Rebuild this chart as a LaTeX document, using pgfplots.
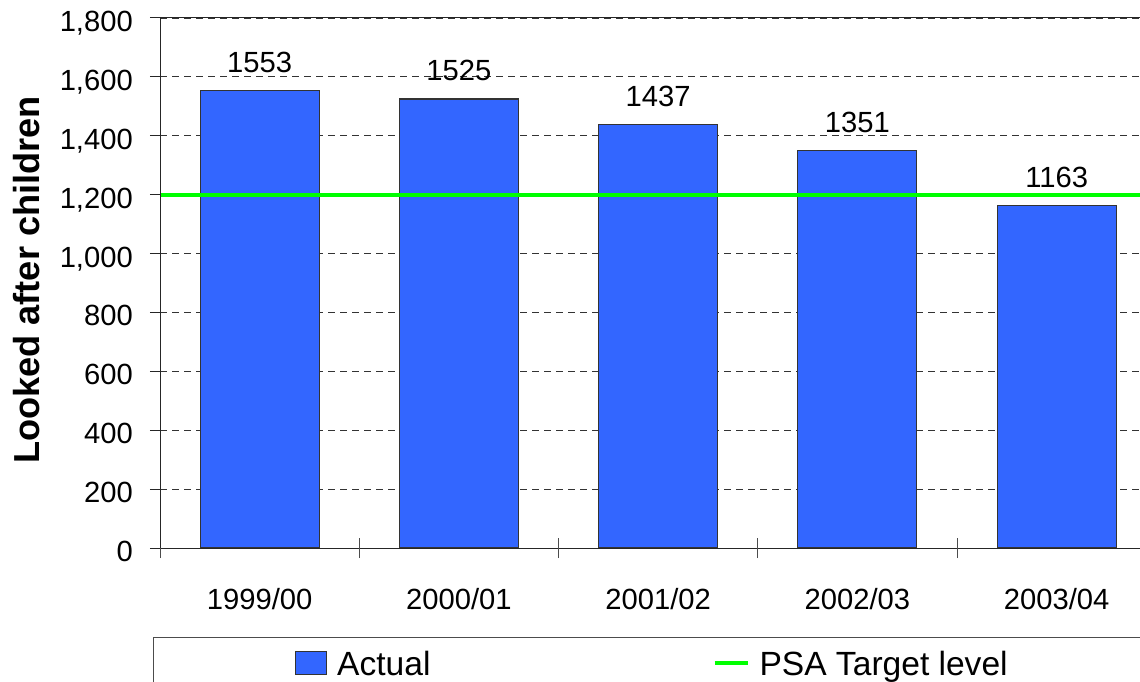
\documentclass[border=0pt]{standalone}
\usepackage{pgfplots}
\pgfplotsset{compat=1.18}
\usepackage{fontspec}
\setmainfont{Liberation Sans}
\definecolor{barblue}{RGB}{51,102,255}
\definecolor{psagreen}{RGB}{0,255,0}
\pgfplotsset{
  barlegend/.style={legend image code/.code={\draw[##1] (0bp,-11.5bp) rectangle (31bp,11.5bp);}},
  linelegend/.style={legend image code/.code={\draw[##1] (0bp,0bp) -- (33bp,0bp);}},
}
\begin{document}
\begin{tikzpicture}
\useasboundingbox (0,0) rectangle (1140bp,682bp);
\clip (0,0) rectangle (1140bp,682bp);
\begin{axis}[
  at={(160bp,134bp)}, anchor=south west,
  scale only axis,
  width=996.25bp, height=530bp,
  xmin=-0.5, xmax=4.5,
  ymin=0, ymax=1800,
  axis line style={black!85, line width=1bp},
  xtick={0,1,2,3,4},
  xticklabels={1999/00,2000/01,2001/02,2002/03,2003/04},
  major x tick style={draw=none},
  xticklabel style={anchor=base, inner sep=0pt, yshift=-61bp},
  extra x ticks={-0.5,0.5,1.5,2.5,3.5,4.5},
  extra x tick labels={},
  extra x tick style={xtick align=center, major tick length=20bp, major x tick style={draw=black!70, line width=1bp}, grid=none},
  ytick={0,200,...,1800},
  ytick align=outside,
  ytick pos=left,
  xtick pos=bottom,
  major tick length=10bp,
  major y tick style={draw=black!85, line width=1bp},
  yticklabel style={anchor=base east, inner sep=0pt, xshift=-17bp, yshift=-13.5bp},
  /pgf/number format/1000 sep={,},
  /pgf/number format/assume math mode=true,
  tick label style={font=\fontsize{29.3}{35}\selectfont},
  ymajorgrids,
  grid style={black!80, line width=0.8bp, dash pattern=on 7bp off 5bp},
  ylabel={Looked after children},
  ylabel style={at={(axis description cs:-0.1335,0.5057)}, anchor=center, font=\fontsize{36.3}{40}\selectfont\bfseries},
  legend columns=2,
  legend style={draw=none, fill=none, inner sep=0pt, outer sep=0pt,
    at={(axis description cs:0.1355,-0.217)}, anchor=west,
    nodes={inner sep=0pt, text height=24bp, text depth=0bp, font=\fontsize{33.7}{38}\selectfont},
    /tikz/column 1/.style={column sep=10bp},
    /tikz/column 2/.style={column sep=282bp},
    /tikz/column 3/.style={column sep=10bp}},
  legend cell align=left,
]
\addplot[ybar, bar width=119bp, fill=barblue, draw=black!80, line width=1.2bp,
  nodes near coords={\pgfmathprintnumber[1000 sep={}]{\pgfplotspointmeta}},
  nodes near coords style={anchor=base, inner sep=0pt, yshift=18bp, font=\fontsize{29.3}{35}\selectfont, black},
  barlegend]
  coordinates {(0,1553) (1,1525) (2,1437) (3,1351) (4,1163)};
\addlegendentry{Actual}
\addplot[psagreen, line width=4bp, linelegend]
  coordinates {(-0.5,1200) (4.5,1200)};
\addlegendentry{PSA Target level}
\end{axis}
\draw[black!85, line width=1bp] (160bp,664bp) -- (1145bp,664bp);
\draw[black!85, line width=1bp] (160bp,134bp) -- (160bp,664bp);
\draw[black!70, line width=1bp] (153bp,0bp) -- (153bp,44bp) -- (1145bp,44bp);
\end{tikzpicture}
\end{document}
